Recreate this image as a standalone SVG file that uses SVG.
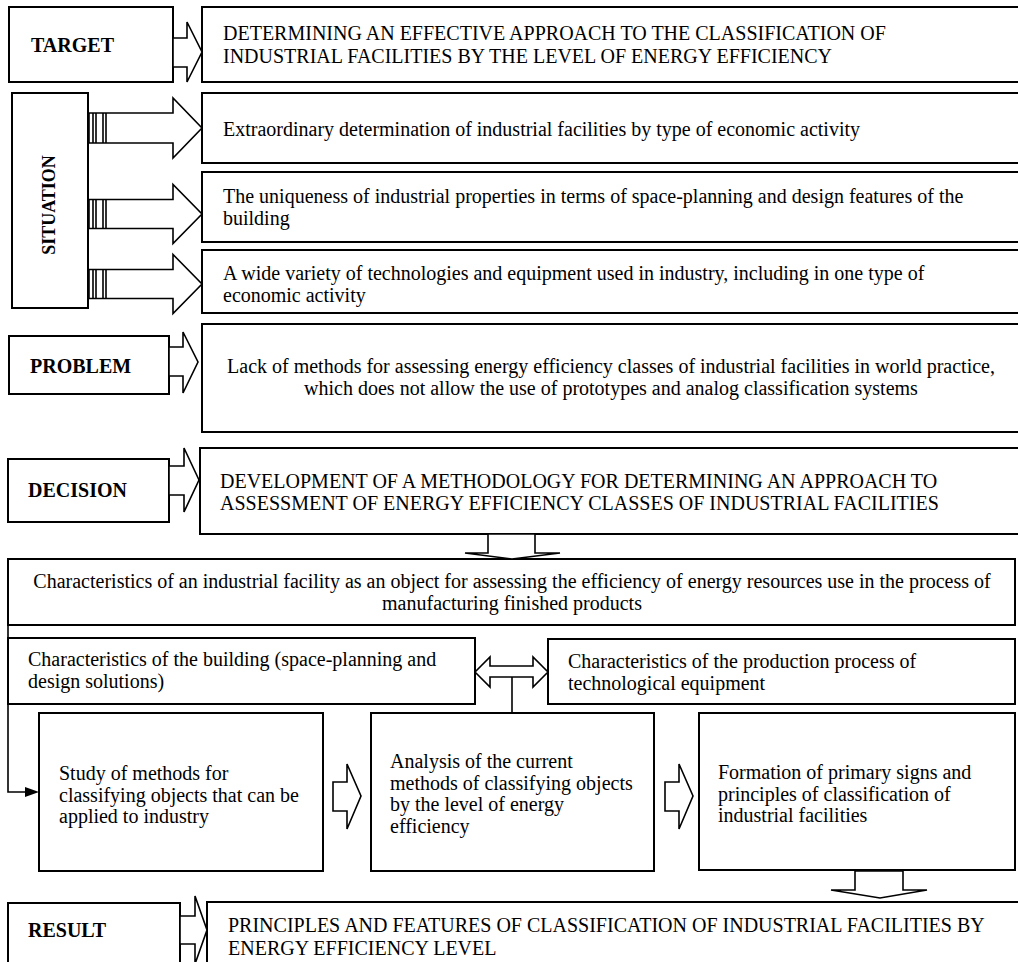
<svg xmlns="http://www.w3.org/2000/svg" width="1018" height="962" viewBox="0 0 1018 962">
<style>
.box{fill:#fff;stroke:#000;stroke-width:2}
.arr{fill:#fff;stroke:#000;stroke-width:1.6;stroke-linejoin:miter}
.ln{fill:none;stroke:#000;stroke-width:1.6}
.t{font-family:"Liberation Serif","Times New Roman",serif;font-size:20px;fill:#000}
.b{font-weight:bold}
.m{text-anchor:middle}
</style>
<rect width="1018" height="962" fill="#fff"/>
<g id="target">
<rect class="box" x="9" y="7" width="164" height="75"/>
<text class="t b" x="31" y="52">TARGET</text>
</g>
<g id="target-text">
<rect class="box" x="202" y="7" width="830" height="75"/>
<text class="t" x="223" y="40">DETERMINING AN EFFECTIVE APPROACH TO THE CLASSIFICATION OF</text>
<text class="t" x="223" y="63">INDUSTRIAL FACILITIES BY THE LEVEL OF ENERGY EFFICIENCY</text>
</g>
<g id="situation">
<rect class="box" x="12" y="93" width="76" height="215"/>
<text class="t b m" style="font-size:18px" transform="translate(55,205) rotate(-90)">SITUATION</text>
</g>
<g id="situation-1">
<rect class="box" x="202" y="93" width="830" height="70"/>
<text class="t" x="223" y="136">Extraordinary determination of industrial facilities by type of economic activity</text>
</g>
<g id="situation-2">
<rect class="box" x="202" y="172" width="830" height="70"/>
<text class="t" x="223" y="203">The uniqueness of industrial properties in terms of space-planning and design features of the</text>
<text class="t" x="223" y="225">building</text>
</g>
<g id="situation-3">
<rect class="box" x="202" y="250" width="830" height="63"/>
<text class="t" x="223" y="280">A wide variety of technologies and equipment used in industry, including in one type of</text>
<text class="t" x="223" y="302">economic activity</text>
</g>
<g id="problem">
<rect class="box" x="9" y="336" width="160" height="58"/>
<text class="t b" x="30" y="373">PROBLEM</text>
</g>
<g id="problem-text">
<rect class="box" x="202" y="324" width="830" height="108"/>
<text class="t m" x="611" y="373">Lack of methods for assessing energy efficiency classes of industrial facilities in world practice,</text>
<text class="t m" x="611" y="395">which does not allow the use of prototypes and analog classification systems</text>
</g>
<g id="decision">
<rect class="box" x="8" y="459" width="161" height="63"/>
<text class="t b" x="28" y="497">DECISION</text>
</g>
<g id="decision-text">
<rect class="box" x="200" y="448" width="832" height="86"/>
<text class="t" x="220" y="488">DEVELOPMENT OF A METHODOLOGY FOR DETERMINING AN APPROACH TO</text>
<text class="t" x="220" y="510">ASSESSMENT OF ENERGY EFFICIENCY CLASSES OF INDUSTRIAL FACILITIES</text>
</g>
<g id="characteristics">
<rect class="box" x="8" y="559" width="1007" height="66"/>
<text class="t m" x="512" y="588">Characteristics of an industrial facility as an object for assessing the efficiency of energy resources use in the process of</text>
<text class="t m" x="512" y="610">manufacturing finished products</text>
</g>
<g id="building">
<rect class="box" x="8" y="638" width="467" height="66"/>
<text class="t" x="28" y="666">Characteristics of the building (space-planning and</text>
<text class="t" x="28" y="688">design solutions)</text>
</g>
<g id="production">
<rect class="box" x="548" y="639" width="467" height="65"/>
<text class="t" x="568" y="668">Characteristics of the production process of</text>
<text class="t" x="568" y="690">technological equipment</text>
</g>
<g id="study">
<rect class="box" x="39" y="713" width="284" height="158"/>
<text class="t" x="59" y="780">Study of methods for</text>
<text class="t" x="59" y="802">classifying objects that can be</text>
<text class="t" x="59" y="823">applied to industry</text>
</g>
<g id="analysis">
<rect class="box" x="371" y="713" width="283" height="158"/>
<text class="t" x="390" y="768">Analysis of the current</text>
<text class="t" x="390" y="790">methods of classifying objects</text>
<text class="t" x="390" y="811">by the level of energy</text>
<text class="t" x="390" y="833">efficiency</text>
</g>
<g id="formation">
<rect class="box" x="699" y="713" width="316" height="157"/>
<text class="t" x="718" y="779">Formation of primary signs and</text>
<text class="t" x="718" y="801">principles of classification of</text>
<text class="t" x="718" y="822">industrial facilities</text>
</g>
<g id="result">
<rect class="box" x="8" y="903" width="172" height="80"/>
<text class="t b" x="28" y="937">RESULT</text>
</g>
<g id="result-text">
<rect class="box" x="207" y="902" width="825" height="80"/>
<text class="t" x="228" y="932">PRINCIPLES AND FEATURES OF CLASSIFICATION OF INDUSTRIAL FACILITIES BY</text>
<text class="t" x="228" y="955">ENERGY EFFICIENCY LEVEL</text>
</g>
<g id="connectors">
<polygon class="arr" points="173,38 187,38 187,22 202,52 187,82 187,67 173,67"/>
<polygon class="arr" points="89,113 173,113 173,98 202,128 173,158 173,143 89,143"/>
<path class="ln" d="M93,113V143M96,113V143M103,113V143M106,113V143"/>
<polygon class="arr" points="89,199.5 173,199.5 173,184.5 202,214 173,243.5 173,228.5 89,228.5"/>
<path class="ln" d="M93,199.5V228.5M96,199.5V228.5M103,199.5V228.5M106,199.5V228.5"/>
<polygon class="arr" points="89,269.5 173,269.5 173,254.5 202,284 173,313.5 173,298.5 89,298.5"/>
<path class="ln" d="M93,269.5V298.5M96,269.5V298.5M103,269.5V298.5M106,269.5V298.5"/>
<polygon class="arr" points="169,347 183,347 183,332 198,362 183,393 183,376 169,376"/>
<polygon class="arr" points="169,466 184,466 184,448 199,480 184,512 184,495 169,495"/>
<polygon class="arr" points="488,534 488,553 465,553 512,559 560,553 535,553 535,534"/>
<polygon class="arr" points="475,672 490,657 490,666 533,666 533,657 548,672 533,687 533,677 490,677 490,687"/>
<path class="ln" d="M512,677V713"/>
<path class="ln" d="M8,625V792H27"/>
<polygon points="25,787 39,792 25,797" fill="#000"/>
<polygon class="arr" points="333,782 347,782 347,764 361,796 347,829 347,811 333,811"/>
<polygon class="arr" points="665,782 679,782 679,764 693,796 679,829 679,811 665,811"/>
<polygon class="arr" points="855,871 855,890 831,890 880,898 927,890 903,890 903,871"/>
<polygon class="arr" points="180,916 195,916 195,896 207,930 195,964 195,944 180,944"/>
</g>
</svg>
